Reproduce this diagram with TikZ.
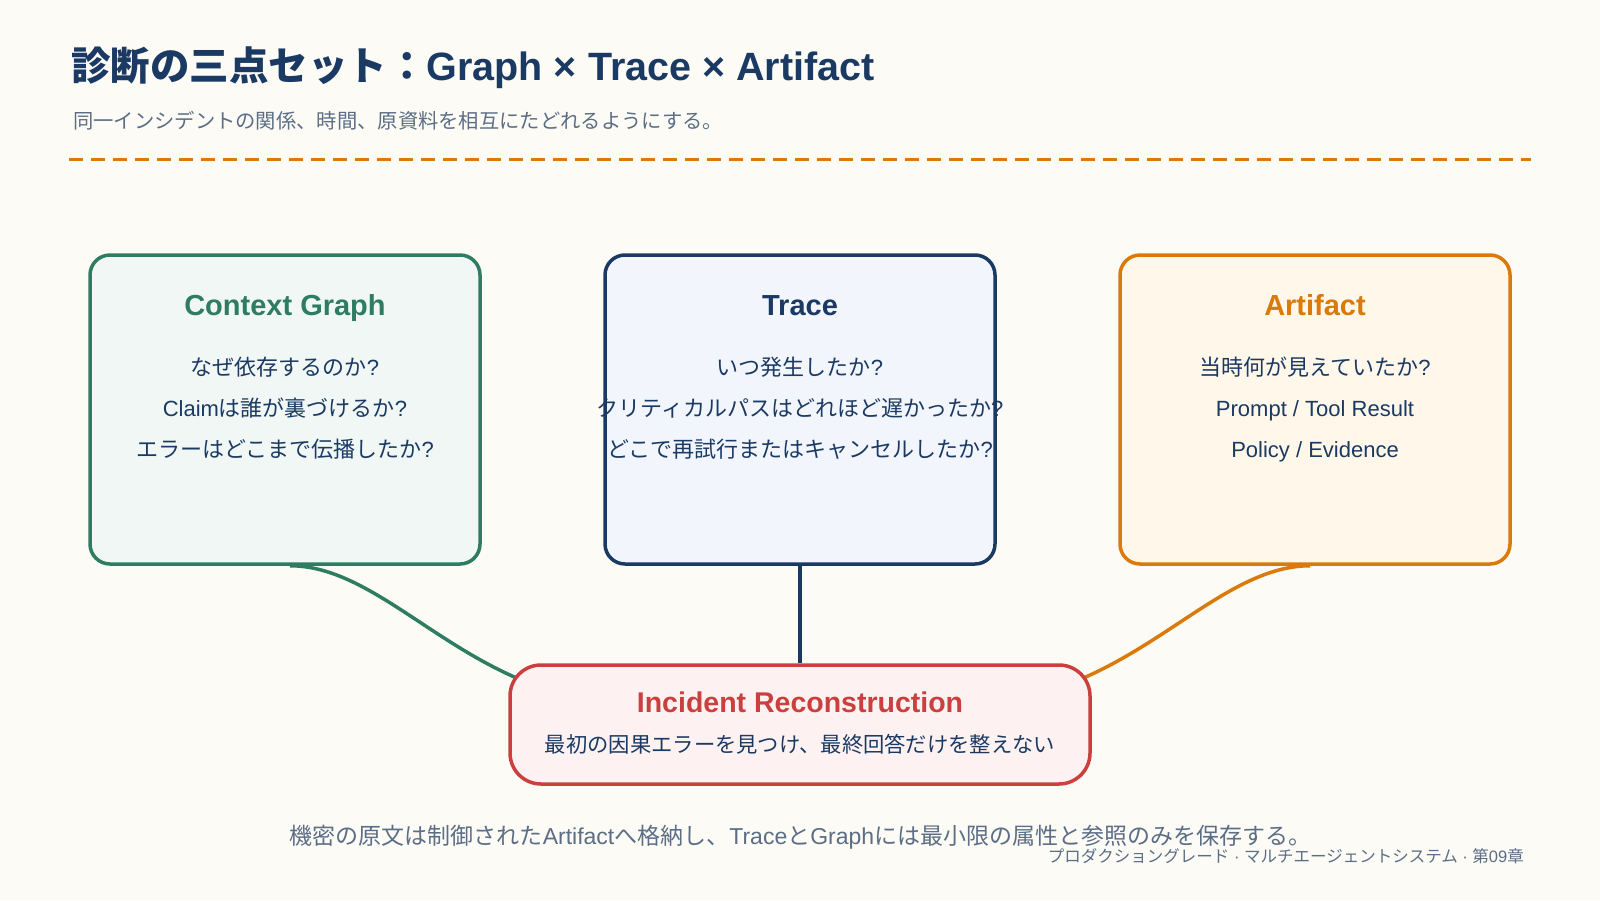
\documentclass[tikz,border=0pt]{standalone}
\usepackage{fontspec}
\setmainfont{Liberation Sans}
\newfontfamily\jp{Noto Sans CJK JP}
\newcommand\J[1]{{\jp #1}}
\usetikzlibrary{calc,backgrounds}
\definecolor{bgc}{HTML}{FDFBF6}
\definecolor{navy}{HTML}{1B3A63}
\definecolor{grn}{HTML}{2E7D62}
\definecolor{org}{HTML}{D97A0B}
\definecolor{rd}{HTML}{C9403F}
\definecolor{gry}{HTML}{5B6E86}
\definecolor{grnfill}{HTML}{F0F7F4}
\definecolor{navfill}{HTML}{F2F6FC}
\definecolor{orgfill}{HTML}{FFF7E9}
\definecolor{rdfill}{HTML}{FDF1F1}
\pgfdeclarelayer{deep}
\pgfsetlayers{deep,background,main}
\tikzset{
  panel/.style={rounded corners=20pt, line width=3.5pt, minimum width=390pt, minimum height=309pt, inner sep=0pt},
  ttl/.style={anchor=base, inner sep=0pt, font=\bfseries\fontsize{29}{34}\selectfont},
  body/.style={anchor=base, inner sep=0pt, font=\fontsize{22}{26}\selectfont, text=navy},
  link/.style={line width=3.5pt},
}
\begin{document}
\begin{tikzpicture}[x=1pt,y=-1pt]
\begin{pgfonlayer}{deep}
\fill[bgc] (0,0) rectangle (1600,900);
\end{pgfonlayer}
\useasboundingbox (0,0) rectangle (1600,900);

% header
\node[anchor=west, inner sep=0pt, text=navy, font=\bfseries\fontsize{39.5}{46}\selectfont] (title) at (71,68) {\J{診断の三点セット：}Graph × Trace × Artifact};
\node[anchor=west, inner sep=0pt, text=gry, font=\fontsize{20.3}{24}\selectfont] (sub) at (73,121) {\J{同一インシデントの関係、時間、原資料を相互にたどれるようにする。}};
\draw[org, line width=3pt, dash pattern=on 14pt off 8pt] (69,159) -- (1531,159);

% panels
\node[panel, draw=grn, fill=grnfill] (ctx) at (285,409.5) {};
\node[panel, draw=navy, fill=navfill] (trc) at (800,409.5) {};
\node[panel, draw=org, fill=orgfill] (art) at (1315,409.5) {};

\node[ttl, text=grn] (ctxT) at (285,315) {Context Graph};
\node[body] (ctx1) at (285,375) {\J{なぜ依存するのか}?};
\node[body] (ctx2) at (285,416) {Claim\J{は誰が裏づけるか}?};
\node[body] (ctx3) at (285,457) {\J{エラーはどこまで伝播したか}?};

\node[ttl, text=navy] (trcT) at (800,315) {Trace};
\node[body] (trc1) at (800,375) {\J{いつ発生したか}?};
\node[body] (trc2) at (800,416) {\J{クリティカルパスはどれほど遅かったか}?};
\node[body] (trc3) at (800,457) {\J{どこで再試行またはキャンセルしたか}?};

\node[ttl, text=org] (artT) at (1315,315) {Artifact};
\node[body] (art1) at (1315,375) {\J{当時何が見えていたか}?};
\node[body] (art2) at (1315,416) {Prompt / Tool Result};
\node[body] (art3) at (1315,457) {Policy / Evidence};

% incident
\node[draw=rd, fill=rdfill, line width=3.5pt, rounded corners=31pt, minimum width=580pt, minimum height=119pt, inner sep=0pt] (inc) at (800,724.5) {};
\node[text=rd, font=\bfseries\fontsize{28.5}{34}\selectfont, inner sep=0pt] (incT) at (800,702) {Incident Reconstruction};
\node[text=navy, font=\fontsize{21.3}{25}\selectfont, inner sep=0pt] (inc1) at (800,744) {\J{最初の因果エラーを見つけ、最終回答だけを整えない}};

% connectors
\coordinate (gout) at ($(ctx.south)+(5,0)$);
\coordinate (aout) at ($(art.south)+(-5,0)$);
\coordinate (gin) at ($(inc.north west)+(35,25)$);
\coordinate (ain) at ($(inc.north east)+(-35,25)$);
\begin{pgfonlayer}{background}
\draw[link, grn] (gout) .. controls +(80,0) and +(-105,-35) .. (gin);
\draw[link, navy] (trc.south) -- (inc.north);
\draw[link, org] (aout) .. controls +(-80,0) and +(105,-35) .. (ain);
\end{pgfonlayer}

% footer
\node[text=gry, font=\fontsize{23}{27}\selectfont, inner sep=0pt] (foot) at (800.5,837) {\J{機密の原文は制御された}Artifact\J{へ格納し、}Trace\J{と}Graph\J{には最小限の属性と参照のみを保存する。}};
\node[anchor=east, text=gry, font=\fontsize{16.5}{20}\selectfont, inner sep=0pt] (note) at (1524,856) {\J{プロダクショングレード} · \J{マルチエージェントシステム} · \J{第}09\J{章}};
\end{tikzpicture}
\end{document}
